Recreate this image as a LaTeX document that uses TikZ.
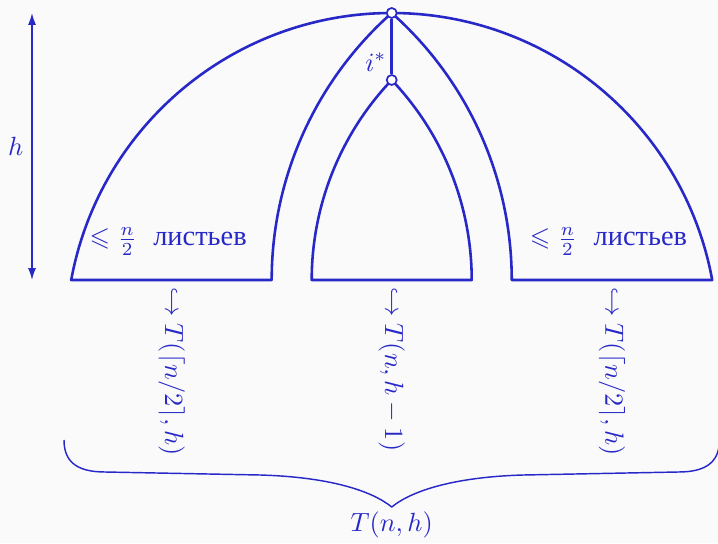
\documentclass[tikz,border=0pt]{standalone}
\usepackage{amssymb}
\usepackage{fontspec}
\newfontfamily\cyr{Liberation Serif}
\usetikzlibrary{arrows.meta}
\definecolor{ink}{RGB}{40,40,200}
\definecolor{bg}{RGB}{250,250,250}
\begin{document}
\begin{tikzpicture}[x=0.38pt,y=0.38pt,line join=round,
  shapeline/.style={draw=ink,line width=0.98pt},
  thinline/.style={draw=ink,line width=0.55pt},
  vtx/.style={circle,draw=ink,fill=white,line width=0.65pt,inner sep=0pt,minimum size=3.8pt},
  lbl/.style={text=ink,font=\fontsize{10}{12}\selectfont},
  cyrlbl/.style={text=ink,font=\cyr\fontsize{10.8}{12}\selectfont,anchor=base west},
  mathlbl/.style={lbl,anchor=base east},
  rlbl/.style={lbl,rotate=-90,anchor=west}]
\fill[bg] (0,0) rectangle (718,543);
\useasboundingbox (0,0) rectangle (718,543);
% base coordinates
\coordinate (LA) at (71.2,263);
\coordinate (LB) at (271.7,263);
\coordinate (MA) at (311.7,263);
\coordinate (MB) at (471.7,263);
\coordinate (RA) at (511.7,263);
\coordinate (RB) at (712.2,263);
% left part
\draw[shapeline] (LB) -- (LA) arc[start angle=169.59,end angle=90,radius=325.86]
  arc[start angle=131.6,end angle=180,radius=357.04] -- cycle;
% middle part
\draw[shapeline] (MA) -- (MB) arc[start angle=0,end angle=43.6,radius=290]
  arc[start angle=136.4,end angle=180,radius=290] -- cycle;
% right part
\draw[shapeline] (RA) -- (RB) arc[start angle=10.41,end angle=90,radius=325.86]
  arc[start angle=48.4,end angle=0,radius=357.04] -- cycle;
% vertices
\node[vtx] (top) at (391.7,530) {};
\node[vtx] (mid) at (391.7,463) {};
\draw[shapeline] (top) -- (mid) node[pos=0.78,left,lbl,inner sep=1.5pt] {$i^*$};
% height arrow
\coordinate (hT) at (32,530);
\coordinate (hB) at (32,263);
\draw[thinline,{Latex[length=4.5pt,width=3pt]}-{Latex[length=4.5pt,width=3pt]}] (hT) -- (hB)
  node[midway,left,lbl,inner sep=3pt] {$h$};
% leaf labels
\node[mathlbl] (llm) at (146,297) {$\leqslant \frac{n}{2}$};
\node[cyrlbl] (llt) at (144,297) {листьев};
\node[mathlbl] (rlm) at (586.3,297) {$\leqslant \frac{n}{2}$};
\node[cyrlbl] (rlt) at (584.3,297) {листьев};
% rotated recursion labels
\node[rlbl] (lt) at (171.7,265) {$\hookrightarrow T(\lceil n/2\rceil,h)$};
\node[rlbl] (mt) at (391.7,265) {$\hookrightarrow T(n,h-1)$};
\node[rlbl] (rt) at (612,265) {$\hookrightarrow T(\lceil n/2\rceil,h)$};
% brace
\coordinate (bL) at (64,103);
\coordinate (bTip) at (391.7,36);
\coordinate (bR) at (719.4,103);
\draw[thinline] (bL) .. controls (64,82) and (76,71) .. (105,71) -- (260,68)
  .. controls (330,66) and (372,52) .. (bTip)
  .. controls (411.4,52) and (453.4,66) .. (523.4,68) -- (678.4,71)
  .. controls (707.4,71) and (719.4,82) .. (bR);
\node[lbl] (tot) at (391.7,18) {$T(n,h)$};
\end{tikzpicture}
\end{document}
